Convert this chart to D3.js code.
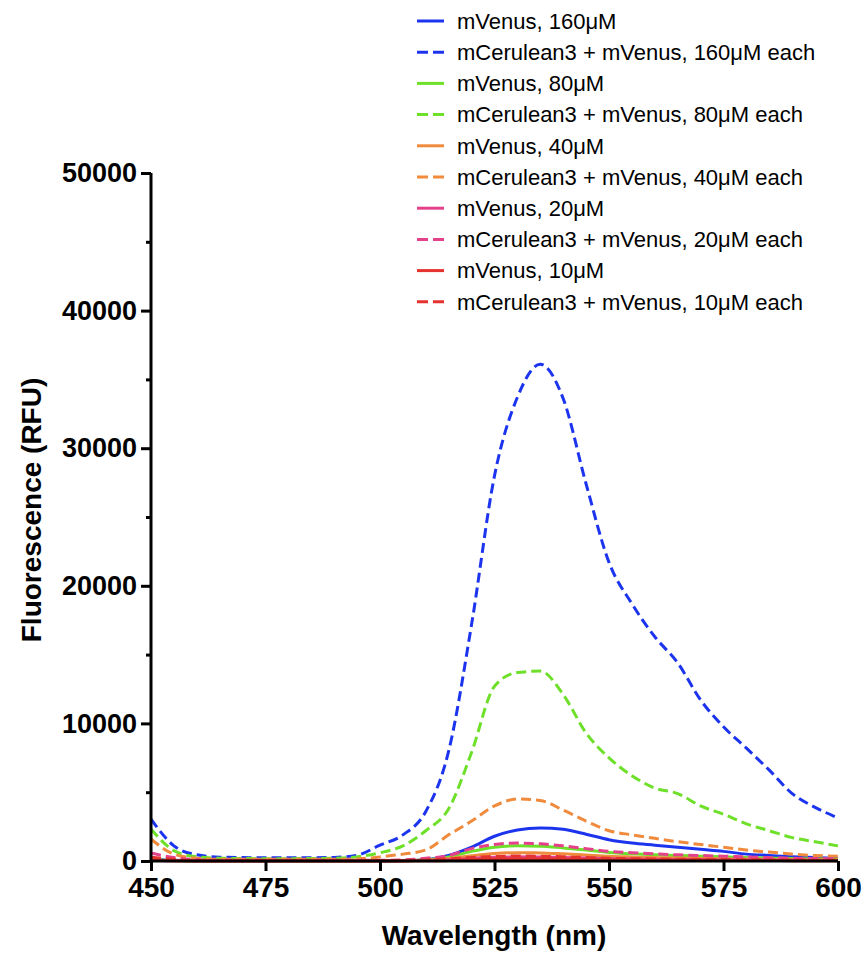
<!DOCTYPE html>
<html>
<head>
<meta charset="utf-8">
<script src="https://cdn.jsdelivr.net/npm/d3@7"></script>
<style>
  body { margin: 0; background: #fff; }
  svg { display: block; font-family: "Liberation Sans", Arial, sans-serif; }
</style>
</head>
<body>
<div id="chart"></div>
<script>
// wavelengths (nm), 5 nm steps
const wavelengths = [450, 455, 460, 465, 470, 475, 480, 485, 490, 495, 500, 505, 510, 515, 520, 525,
    530, 535, 540, 545, 550, 555, 560, 565, 570, 575, 580, 585, 590, 595, 600];

// values (RFU)
const venus160 = [150, 50, 20, 20, 20, 20, 20, 20, 20, 20, 20, 30, 100, 400, 1000, 1800,
    2250, 2400, 2300, 1950, 1550, 1300, 1150, 1000, 850, 700, 500, 400, 300, 250, 200];
const fret160 = [3050, 1100, 450, 280, 250, 230, 230, 240, 260, 420, 1150, 1900, 3600, 8000, 17200, 28000,
    33700, 36100, 33600, 27400, 21700, 18700, 16300, 14400, 11700, 9750, 8200, 6600, 4900, 3900, 3130];
const venus80 = [100, 40, 20, 20, 20, 20, 20, 20, 20, 20, 20, 30, 100, 300, 700, 1000,
    1100, 1080, 950, 800, 620, 520, 450, 400, 350, 300, 250, 210, 180, 150, 130];
const fret80 = [2330, 750, 300, 200, 180, 170, 170, 180, 200, 300, 600, 1100, 2200, 3800, 7900, 12700,
    13700, 13800, 12100, 9300, 7500, 6200, 5300, 4900, 4000, 3400, 2700, 2200, 1700, 1400, 1100];
const venus40 = [80, 30, 15, 15, 15, 15, 15, 15, 15, 15, 15, 20, 60, 180, 380, 540,
    600, 590, 520, 430, 340, 290, 250, 220, 190, 160, 140, 120, 100, 90, 80];
const fret40 = [1600, 500, 200, 120, 120, 120, 120, 120, 120, 150, 300, 500, 800, 1900, 2900, 4000,
    4500, 4400, 3700, 2900, 2200, 1900, 1650, 1400, 1200, 1000, 800, 650, 500, 400, 350];
const venus20 = [60, 20, 10, 10, 10, 10, 10, 10, 10, 10, 10, 15, 30, 90, 190, 270,
    300, 295, 260, 215, 170, 145, 125, 110, 95, 80, 70, 60, 50, 45, 40];
const fret20 = [580, 250, 100, 50, 50, 50, 50, 50, 50, 50, 50, 80, 200, 400, 900, 1200,
    1300, 1250, 1100, 900, 700, 600, 520, 450, 400, 350, 300, 250, 200, 180, 160];
const venus10 = [40, 15, 5, 5, 5, 5, 5, 5, 5, 5, 5, 8, 15, 45, 95, 135,
    150, 148, 130, 108, 85, 72, 62, 55, 48, 40, 35, 30, 25, 22, 20];
const fret10 = [280, 120, 30, 30, 30, 30, 30, 30, 30, 30, 30, 35, 70, 150, 260, 330,
    360, 350, 310, 250, 200, 170, 150, 130, 115, 100, 90, 80, 70, 60, 55];

const xTicks = [450, 475, 500, 525, 550, 575, 600];
const yTicks = [0, 10000, 20000, 30000, 40000, 50000];
const yMinorTicks = [5000, 15000, 25000, 35000, 45000];

const series = [
    { label: "mVenus, 160μM", values: venus160, color: "#1c34ee", dashed: false },
    { label: "mCerulean3 + mVenus, 160μM each", values: fret160, color: "#1c34ee", dashed: true },
    { label: "mVenus, 80μM", values: venus80, color: "#6ee02a", dashed: false },
    { label: "mCerulean3 + mVenus, 80μM each", values: fret80, color: "#6ee02a", dashed: true },
    { label: "mVenus, 40μM", values: venus40, color: "#f08a3c", dashed: false },
    { label: "mCerulean3 + mVenus, 40μM each", values: fret40, color: "#f08a3c", dashed: true },
    { label: "mVenus, 20μM", values: venus20, color: "#e4418a", dashed: false },
    { label: "mCerulean3 + mVenus, 20μM each", values: fret20, color: "#e4418a", dashed: true },
    { label: "mVenus, 10μM", values: venus10, color: "#e4332f", dashed: false },
    { label: "mCerulean3 + mVenus, 10μM each", values: fret10, color: "#e4332f", dashed: true }
];

const width = 864;
const height = 956;

const svg = d3.select("#chart")
    .append("svg")
    .attr("width", width)
    .attr("height", height);

const xScale = d3.scaleLinear().domain([450, 600]).range([151, 838]);
const yScale = d3.scaleLinear().domain([0, 50000]).range([861, 173]);

// lines
const line = d3.line()
    .x((d, i) => xScale(wavelengths[i]))
    .y(d => yScale(d))
    .curve(d3.curveMonotoneX);

svg.append("g")
    .selectAll("path")
    .data(series)
    .enter().append("path")
    .attr("d", d => line(d.values))
    .attr("fill", "none")
    .attr("stroke", d => d.color)
    .attr("stroke-width", 3)
    .attr("stroke-dasharray", d => d.dashed ? "10,5" : null);

// axes
const xAxis = d3.axisBottom(xScale).tickValues(xTicks).tickSize(10).tickPadding(6).tickFormat(d3.format("d"));
const yAxis = d3.axisLeft(yScale).tickValues(yTicks).tickSize(10).tickPadding(4).tickFormat(d3.format("d"));

const gx = svg.append("g")
    .attr("transform", "translate(0,861)")
    .call(xAxis);

const gy = svg.append("g")
    .attr("transform", "translate(151,0)")
    .call(yAxis);

svg.append("g")
    .attr("transform", "translate(151,0)")
    .call(d3.axisLeft(yScale).tickValues(yMinorTicks).tickSize(5).tickFormat(""))
    .select(".domain").remove();

svg.selectAll(".domain, .tick line")
    .attr("stroke", "#000")
    .attr("stroke-width", 3);

gx.select(".domain").attr("d", "M151,0H838");
gy.select(".domain").attr("d", "M0,173V862.5");

gx.selectAll(".tick text")
    .attr("fill", "#000")
    .style("font-size", "28px")
    .style("font-weight", "bold");

gy.selectAll(".tick text")
    .attr("fill", "#000")
    .style("font-size", "27px")
    .style("font-weight", "bold");

// axis titles
svg.append("text")
    .attr("x", 494)
    .attr("y", 945)
    .attr("text-anchor", "middle")
    .style("font-size", "28px")
    .style("font-weight", "bold")
    .text("Wavelength (nm)");

svg.append("text")
    .attr("transform", "translate(41,510) rotate(-90)")
    .attr("text-anchor", "middle")
    .style("font-size", "28px")
    .style("font-weight", "bold")
    .text("Fluorescence (RFU)");

// legend
const legend = svg.append("g")
    .selectAll("g")
    .data(series)
    .enter().append("g")
    .attr("transform", (d, i) => "translate(417," + (21 + i * 31.2) + ")");

legend.append("line")
    .attr("x1", 0)
    .attr("x2", 27)
    .attr("stroke", d => d.color)
    .attr("stroke-width", 3)
    .attr("stroke-dasharray", d => d.dashed ? "11,5" : null);

legend.append("text")
    .attr("x", 40)
    .attr("dy", "0.35em")
    .style("font-size", "22px")
    .text(d => d.label);
</script>
</body>
</html>
